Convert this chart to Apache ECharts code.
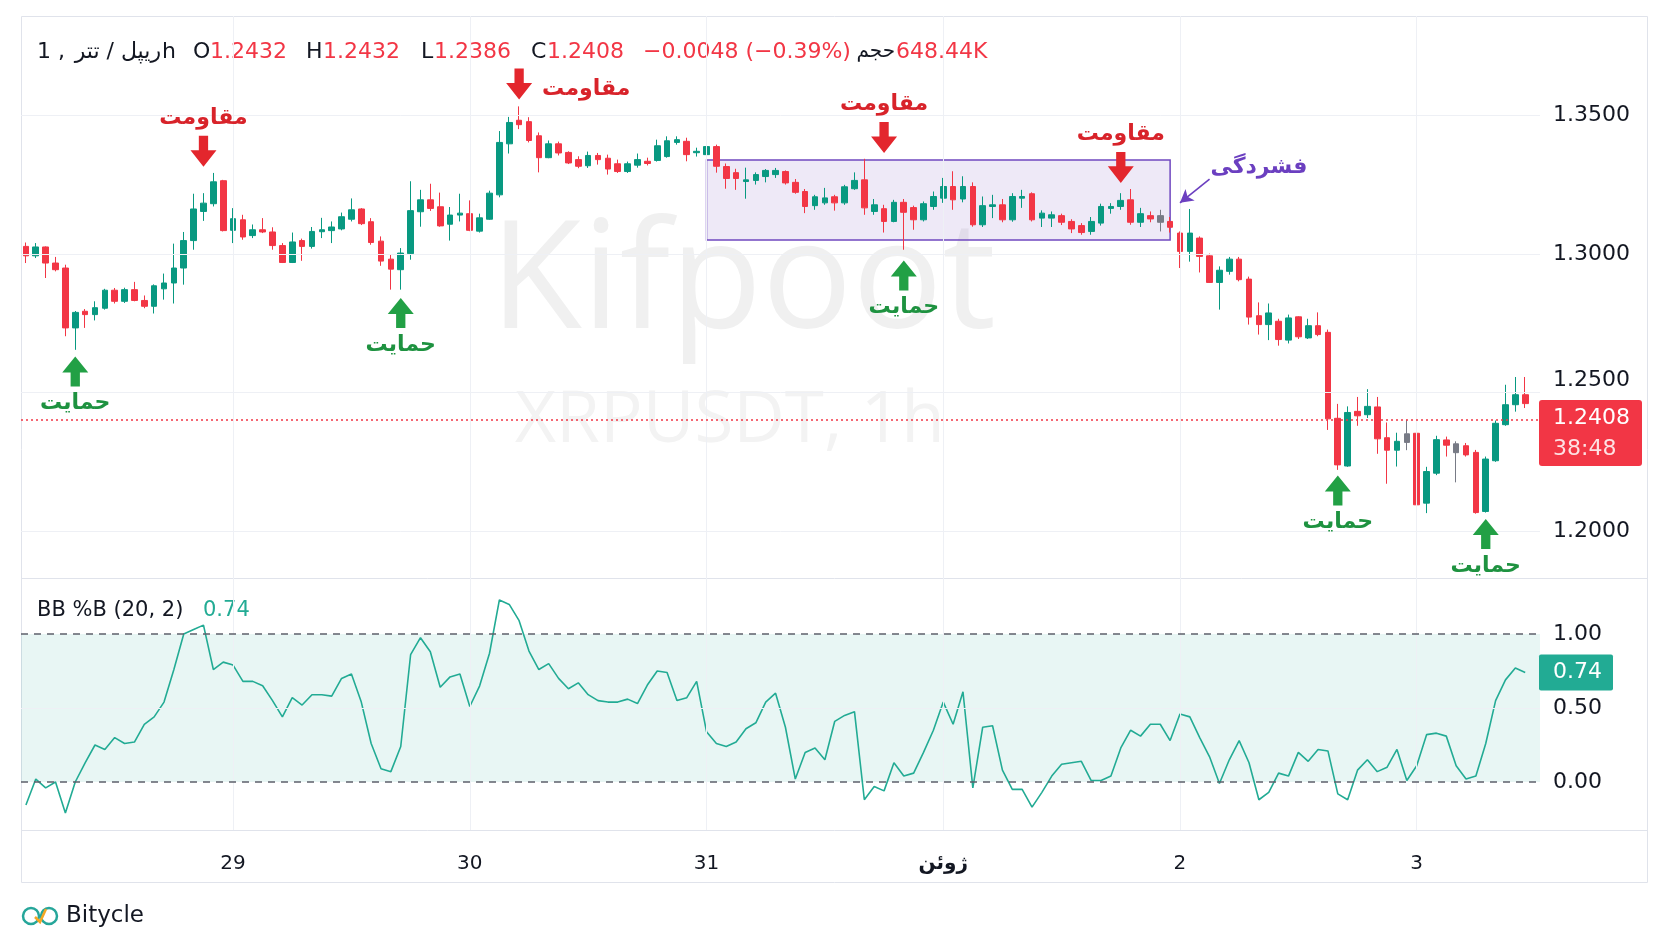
<!DOCTYPE html>
<html>
<head>
<meta charset="utf-8">
<script src="https://cdn.jsdelivr.net/npm/echarts@6/dist/echarts.min.js"></script>
<style>
  html, body { margin: 0; padding: 0; background: #fff; }
  #chart { width: 1672px; height: 941px; }
</style>
</head>
<body>
<div id="chart"></div>
<script>
// XRPUSDT 1h candles, first bar = 28 May 03:00
const opens = [
  1.3027, 1.2993, 1.3025, 1.2967, 1.2949, 1.2733, 1.2793, 1.2781, 1.2804, 1.2869,
  1.2829, 1.2871, 1.2832, 1.2811, 1.2874, 1.2895, 1.2949, 1.3048, 1.3153, 1.3181,
  1.3264, 1.3085, 1.3123, 1.3066, 1.3087, 1.3079, 1.3030, 1.2969, 1.3048, 1.3027,
  1.3080, 1.3084, 1.3090, 1.3125, 1.3162, 1.3116, 1.3046, 1.2981, 1.2943, 1.3001,
  1.3152, 1.3195, 1.3170, 1.3107, 1.3140, 1.3145, 1.3082, 1.3125, 1.3213, 1.3397,
  1.3482, 1.3477, 1.3426, 1.3347, 1.3397, 1.3366, 1.3340, 1.3318, 1.3355, 1.3345,
  1.3325, 1.3297, 1.3320, 1.3334, 1.3337, 1.3351, 1.3402, 1.3406, 1.3365, 1.3358,
  1.3387, 1.3315, 1.3293, 1.3261, 1.3265, 1.3279, 1.3286, 1.3297, 1.3258, 1.3225,
  1.3174, 1.3184, 1.3206, 1.3184, 1.3235, 1.3267, 1.3153, 1.3163, 1.3117, 1.3186,
  1.3167, 1.3123, 1.3171, 1.3201, 1.3243, 1.3198, 1.3243, 1.3105, 1.3171, 1.3177,
  1.3123, 1.3201, 1.3217, 1.3129, 1.3129, 1.3138, 1.3117, 1.3102, 1.3081, 1.3111,
  1.3164, 1.3171, 1.3195, 1.3114, 1.3138, 1.3138, 1.3117, 1.3075, 1.3009, 1.3057,
  1.2993, 1.2897, 1.2937, 1.2981, 1.2909, 1.2777, 1.2745, 1.2757, 1.2689, 1.2773,
  1.2697, 1.2741, 1.2717, 1.2407, 1.2235, 1.2432, 1.2420, 1.2448, 1.2337, 1.2292,
  1.2351, 1.2353, 1.2101, 1.2209, 1.2329, 1.2315, 1.2308, 1.2284, 1.2071, 1.2254,
  1.2384, 1.2456, 1.2492
];
const closes = [
  1.2993, 1.3025, 1.2967, 1.2943, 1.2733, 1.2789, 1.2781, 1.2806, 1.2869, 1.2829,
  1.2871, 1.2832, 1.2811, 1.2885, 1.2895, 1.2949, 1.3048, 1.3162, 1.3183, 1.3260,
  1.3084, 1.3127, 1.3061, 1.3087, 1.3079, 1.3030, 1.2969, 1.3043, 1.3027, 1.3081,
  1.3087, 1.3097, 1.3134, 1.3159, 1.3109, 1.3041, 1.2974, 1.2945, 1.3003, 1.3156,
  1.3195, 1.3164, 1.3101, 1.3140, 1.3147, 1.3085, 1.3130, 1.3219, 1.3402, 1.3474,
  1.3466, 1.3409, 1.3347, 1.3397, 1.3364, 1.3328, 1.3316, 1.3355, 1.3340, 1.3306,
  1.3297, 1.3325, 1.3340, 1.3326, 1.3390, 1.3408, 1.3412, 1.3358, 1.3370, 1.3387,
  1.3316, 1.3272, 1.3272, 1.3267, 1.3286, 1.3301, 1.3301, 1.3256, 1.3222, 1.3171,
  1.3206, 1.3202, 1.3184, 1.3242, 1.3265, 1.3166, 1.3177, 1.3117, 1.3186, 1.3150,
  1.3123, 1.3181, 1.3207, 1.3243, 1.3195, 1.3243, 1.3105, 1.3174, 1.3177, 1.3123,
  1.3207, 1.3207, 1.3123, 1.3147, 1.3141, 1.3114, 1.3090, 1.3077, 1.3117, 1.3171,
  1.3171, 1.3193, 1.3114, 1.3145, 1.3126, 1.3114, 1.3096, 1.3009, 1.3075, 1.2991,
  1.2897, 1.2941, 1.2981, 1.2907, 1.2772, 1.2745, 1.2787, 1.2691, 1.2769, 1.2701,
  1.2741, 1.2709, 1.2405, 1.2239, 1.2428, 1.2416, 1.2450, 1.2333, 1.2292, 1.2324,
  1.2320, 1.2095, 1.2215, 1.2330, 1.2310, 1.2283, 1.2275, 1.2067, 1.2260, 1.2389,
  1.2456, 1.2492, 1.2460
];
const highs = [
  1.3041, 1.3039, 1.3027, 1.2989, 1.2961, 1.2794, 1.2801, 1.2829, 1.2874, 1.2877,
  1.2878, 1.2899, 1.2850, 1.2890, 1.2929, 1.3037, 1.3079, 1.3217, 1.3219, 1.3292,
  1.3267, 1.3165, 1.3141, 1.3106, 1.3129, 1.3096, 1.3039, 1.3077, 1.3055, 1.3097,
  1.3130, 1.3117, 1.3149, 1.3200, 1.3165, 1.3129, 1.3063, 1.2996, 1.3021, 1.3262,
  1.3231, 1.3253, 1.3221, 1.3169, 1.3217, 1.3193, 1.3145, 1.3228, 1.3443, 1.3494,
  1.3532, 1.3493, 1.3438, 1.3409, 1.3405, 1.3370, 1.3352, 1.3369, 1.3364, 1.3358,
  1.3340, 1.3333, 1.3362, 1.3347, 1.3412, 1.3424, 1.3424, 1.3419, 1.3383, 1.3394,
  1.3394, 1.3326, 1.3307, 1.3311, 1.3294, 1.3306, 1.3310, 1.3301, 1.3270, 1.3234,
  1.3213, 1.3238, 1.3213, 1.3249, 1.3294, 1.3343, 1.3198, 1.3177, 1.3195, 1.3198,
  1.3174, 1.3189, 1.3225, 1.3274, 1.3298, 1.3280, 1.3258, 1.3207, 1.3213, 1.3198,
  1.3219, 1.3231, 1.3222, 1.3157, 1.3153, 1.3145, 1.3125, 1.3111, 1.3133, 1.3181,
  1.3183, 1.3219, 1.3234, 1.3166, 1.3153, 1.3159, 1.3133, 1.3081, 1.3162, 1.3063,
  1.3001, 1.2955, 1.2989, 1.2989, 1.2918, 1.2825, 1.2821, 1.2766, 1.2781, 1.2775,
  1.2766, 1.2789, 1.2727, 1.2459, 1.2450, 1.2484, 1.2512, 1.2484, 1.2392, 1.2355,
  1.2402, 1.2355, 1.2232, 1.2344, 1.2341, 1.2324, 1.2318, 1.2293, 1.2269, 1.2399,
  1.2528, 1.2556, 1.2556
];
const lows = [
  1.2967, 1.2985, 1.2913, 1.2937, 1.2703, 1.2654, 1.2733, 1.2760, 1.2799, 1.2821,
  1.2823, 1.2829, 1.2804, 1.2785, 1.2835, 1.2821, 1.2889, 1.3015, 1.3119, 1.3171,
  1.3081, 1.3039, 1.3051, 1.3057, 1.3075, 1.3015, 1.2967, 1.2967, 1.2975, 1.3019,
  1.3057, 1.3039, 1.3085, 1.3117, 1.3104, 1.3033, 1.2957, 1.2871, 1.2871, 1.2979,
  1.3098, 1.3155, 1.3098, 1.3048, 1.3117, 1.3082, 1.3077, 1.3123, 1.3204, 1.3362,
  1.3450, 1.3402, 1.3294, 1.3345, 1.3355, 1.3324, 1.3309, 1.3310, 1.3322, 1.3286,
  1.3292, 1.3292, 1.3311, 1.3319, 1.3333, 1.3347, 1.3394, 1.3334, 1.3351, 1.3351,
  1.3293, 1.3235, 1.3231, 1.3199, 1.3250, 1.3258, 1.3274, 1.3250, 1.3217, 1.3147,
  1.3159, 1.3177, 1.3156, 1.3177, 1.3231, 1.3141, 1.3141, 1.3077, 1.3114, 1.3015,
  1.3087, 1.3117, 1.3159, 1.3184, 1.3159, 1.3186, 1.3098, 1.3097, 1.3129, 1.3114,
  1.3116, 1.3166, 1.3117, 1.3097, 1.3097, 1.3104, 1.3075, 1.3069, 1.3069, 1.3102,
  1.3145, 1.3159, 1.3105, 1.3097, 1.3114, 1.3081, 1.3077, 1.2949, 1.2972, 1.2933,
  1.2895, 1.2799, 1.2925, 1.2901, 1.2745, 1.2709, 1.2689, 1.2669, 1.2677, 1.2693,
  1.2693, 1.2703, 1.2365, 1.2221, 1.2232, 1.2380, 1.2408, 1.2279, 1.2171, 1.2233,
  1.2292, 1.2041, 1.2065, 1.2202, 1.2269, 1.2176, 1.2269, 1.2063, 1.2067, 1.2250,
  1.2380, 1.2431, 1.2444
];
const grayBars = [115, 140, 145];

// BB %B (20, 2)
const bbPercent = [
  -0.155, 0.02, -0.04, 0.0, -0.21, 0.0, 0.13, 0.25, 0.22, 0.30,
  0.26, 0.27, 0.39, 0.44, 0.54, 0.76, 1.0, 1.03, 1.06, 0.76,
  0.81, 0.79, 0.68, 0.68, 0.65, 0.55, 0.44, 0.57, 0.52, 0.59,
  0.59, 0.58, 0.70, 0.73, 0.54, 0.26, 0.09, 0.07, 0.24, 0.86,
  0.975, 0.88, 0.64, 0.71, 0.73, 0.51, 0.65, 0.87, 1.23, 1.20,
  1.09, 0.885, 0.76, 0.80, 0.70, 0.63, 0.67, 0.59, 0.55, 0.54,
  0.54, 0.56, 0.53, 0.655, 0.75, 0.74, 0.55, 0.57, 0.68, 0.34,
  0.26, 0.24, 0.27, 0.36, 0.40, 0.54, 0.60, 0.37, 0.02, 0.20,
  0.23, 0.15, 0.41, 0.45, 0.475, -0.12, -0.03, -0.06, 0.13, 0.04,
  0.06, 0.20, 0.35, 0.54, 0.39, 0.61, -0.04, 0.37, 0.38, 0.08,
  -0.05, -0.05, -0.17, -0.07, 0.04, 0.12, 0.13, 0.14, 0.01, 0.01,
  0.04, 0.23, 0.35, 0.31, 0.39, 0.39, 0.28, 0.46, 0.44, 0.30,
  0.17, -0.01, 0.15, 0.28, 0.13, -0.12, -0.07, 0.06, 0.04, 0.20,
  0.14, 0.22, 0.21, -0.08, -0.12, 0.08, 0.15, 0.07, 0.10, 0.22,
  0.01, 0.11, 0.32, 0.33, 0.31, 0.11, 0.02, 0.04, 0.26, 0.55,
  0.69, 0.77, 0.74
];

const dayIdx = [21, 45, 69, 93, 117, 141];
const dayLabels = ["29", "30", "31", "ژوئن", "2", "3"];
const priceTicks = [1.2, 1.25, 1.3, 1.35];
const bbTicks = [0, 0.5, 1];
const lastPrice = 1.2408;
const lastBB = 0.74;

// annotations: bar index + price of the arrow
const resistIdx = [18, 50, 87, 111];
const resistPrice = [1.337, 1.3613, 1.342, 1.3312];
const supportIdx = [5, 38, 89, 133, 148];
const supportPrice = [1.2576, 1.2787, 1.2922, 1.2147, 1.199];
const squeezeBox = [[69, 1.3339], [116, 1.305]];
const squeezeText = [125, 1.3314];
const squeezeArrow = [[120, 1.327], [117, 1.3184]];

const UP = "#089981";
const DOWN = "#f23645";
const FONT = "DejaVu Sans";
const ARROW_DOWN = "path://M9,0 L19,0 L19,14 L28,14 L14,30 L0,14 L9,14 Z";
const ARROW_UP = "path://M14,0 L28,16 L19,16 L19,30 L9,30 L9,16 L0,16 Z";

const start = Date.UTC(2024, 4, 28, 3);
const hours = [];
for (let i = 0; i <= opens.length; i++) {
  const d = new Date(start + i * 3600e3);
  hours.push(d.getUTCMonth() + 1 + "/" + d.getUTCDate() + " " + d.getUTCHours() + ":00");
}

const gray = { color: "#787b86", color0: "#787b86", borderColor: "#787b86", borderColor0: "#787b86" };
const candles = opens.map((o, i) => {
  const v = [o, closes[i], lows[i], highs[i]];
  return grayBars.includes(i) ? { value: v, itemStyle: gray } : v;
});

const dayLines = dayIdx.map((i) => ({ xAxis: i, lineStyle: { color: "#eef0f5", width: 1, type: "solid" } }));

const xAxisFor = (gridIndex, showLabel) => ({
  type: "category",
  gridIndex,
  data: hours,
  boundaryGap: true,
  axisLine: { show: false },
  axisTick: { show: false },
  splitLine: { show: false },
  axisLabel: showLabel
    ? {
        interval: (i) => dayIdx.includes(i),
        formatter: (v, i) => {
          const k = dayIdx.indexOf(i);
          if (k < 0) return "";
          return k === 3 ? "{b|" + dayLabels[k] + "}" : dayLabels[k];
        },
        rich: { b: { fontWeight: "bold", fontSize: 20, fontFamily: FONT, color: "#131722" } },
        color: "#131722",
        fontSize: 20,
        fontFamily: FONT,
        margin: 24
      }
    : { show: false }
});

const noteLabel = (text, color, position, distance) => ({
  show: true,
  formatter: text,
  position,
  distance,
  color,
  fontSize: 22,
  fontWeight: "bold",
  fontFamily: FONT
});

const notes = [
  ...resistIdx.map((x, k) => ({
    coord: [x, resistPrice[k]],
    symbol: ARROW_DOWN,
    symbolSize: [26, 31],
    itemStyle: { color: "#e3262d" },
    label: Object.assign(
      noteLabel("مقاومت", "#d8232a", k === 1 ? "right" : "top", k === 1 ? 10 : 7),
      k === 1 ? { offset: [0, 5] } : {}
    )
  })),
  ...supportIdx.map((x, k) => ({
    coord: [x, supportPrice[k]],
    symbol: ARROW_UP,
    symbolSize: [26, 30],
    itemStyle: { color: "#22a045" },
    label: noteLabel("حمایت", "#1e9240", "bottom", 6)
  })),
  {
    coord: squeezeText,
    symbol: "circle",
    symbolSize: 1,
    itemStyle: { color: "transparent" },
    label: noteLabel("فشردگی", "#6b3fc0", "inside", 0)
  }
];

const chart = echarts.init(document.getElementById("chart"), null, { renderer: "canvas" });

const option = {
  animation: false,
  backgroundColor: "#ffffff",
  textStyle: { fontFamily: FONT },
  grid: [
    { left: 21, top: 16, width: 1519, height: 562 },
    { left: 21, top: 578, width: 1519, height: 252 }
  ],
  xAxis: [xAxisFor(0, false), xAxisFor(1, true)],
  yAxis: [
    {
      type: "value",
      gridIndex: 0,
      position: "right",
      min: 1.1831,
      max: 1.3858,
      splitLine: { show: false },
      axisLine: { show: false },
      axisTick: { show: false },
      axisLabel: {
        customValues: priceTicks,
        formatter: (v) => (v === 1.25 ? "{up|" + v.toFixed(4) + "}" : v.toFixed(4)),
        rich: { up: { padding: [0, 0, 24, 0], fontSize: 22, fontFamily: FONT, color: "#131722" } },
        color: "#131722",
        fontSize: 22,
        fontFamily: FONT,
        margin: 13
      }
    },
    {
      type: "value",
      gridIndex: 1,
      position: "right",
      min: -0.3243,
      max: 1.3784,
      splitLine: { show: false },
      axisLine: { show: false },
      axisTick: { show: false },
      axisLabel: {
        customValues: bbTicks,
        formatter: (v) => v.toFixed(2),
        color: "#131722",
        fontSize: 22,
        fontFamily: FONT,
        margin: 13
      }
    }
  ],
  series: [
    {
      // grid lines, squeeze box and last price line under the candles
      type: "line",
      xAxisIndex: 0,
      yAxisIndex: 0,
      data: closes,
      symbol: "none",
      lineStyle: { opacity: 0 },
      silent: true,
      z: 1,
      markLine: {
        silent: true,
        symbol: "none",
        label: { show: false },
        data: [
          ...priceTicks.map((v) => ({ yAxis: v, lineStyle: { color: "#eef0f5", width: 1, type: "solid" } })),
          ...dayLines,
          { yAxis: lastPrice, lineStyle: { color: DOWN, width: 1.5, type: [2, 3] } }
        ]
      },
      markArea: {
        silent: true,
        itemStyle: { color: "rgba(126, 87, 194, 0.13)", borderColor: "#7048c0", borderWidth: 1.5 },
        data: [[{ xAxis: squeezeBox[0][0], yAxis: squeezeBox[0][1] }, { xAxis: squeezeBox[1][0], yAxis: squeezeBox[1][1] }]]
      }
    },
    {
      type: "candlestick",
      xAxisIndex: 0,
      yAxisIndex: 0,
      data: candles,
      barWidth: "62%",
      z: 3,
      itemStyle: { color: UP, color0: DOWN, borderColor: UP, borderColor0: DOWN, borderWidth: 1 },
      markPoint: { silent: true, animation: false, data: notes },
      markLine: {
        silent: true,
        symbol: ["none", "arrow"],
        symbolSize: [11, 13],
        label: { show: false },
        lineStyle: { color: "#6b3fc0", width: 1.6, type: "solid" },
        data: [[{ coord: squeezeArrow[0] }, { coord: squeezeArrow[1] }]]
      }
    },
    {
      type: "line",
      xAxisIndex: 1,
      yAxisIndex: 1,
      data: bbPercent,
      symbol: "none",
      silent: true,
      lineStyle: { opacity: 0 },
      z: 1,
      markArea: {
        silent: true,
        itemStyle: { color: "rgba(34, 171, 148, 0.1)" },
        data: [[{ yAxis: 0 }, { yAxis: 1 }]]
      },
      markLine: {
        silent: true,
        symbol: "none",
        label: { show: false },
        data: [
          ...dayLines,
          { yAxis: 0.5, lineStyle: { color: "#eef0f5", width: 1, type: "solid" } },
          { yAxis: 0, lineStyle: { color: "#5d606b", width: 1.5, type: [7, 6] } },
          { yAxis: 1, lineStyle: { color: "#5d606b", width: 1.5, type: [7, 6] } }
        ]
      }
    },
    {
      name: "BB %B",
      type: "line",
      xAxisIndex: 1,
      yAxisIndex: 1,
      data: bbPercent,
      symbol: "none",
      z: 3,
      lineStyle: { color: "#22ab94", width: 1.6 }
    }
  ],
  graphic: {
    elements: [
      { id: "wm1", type: "text", z: -10, silent: true, style: { text: "Kifpoot", x: 743, y: 285, align: "center", verticalAlign: "middle", font: "150px 'Open Sans'", fill: "#f0f0f0" } },
      { id: "wm2", type: "text", z: -10, silent: true, style: { text: "XRPUSDT, 1h", x: 730, y: 422, align: "center", verticalAlign: "middle", font: "71px 'Open Sans'", fill: "#f3f3f3" } },
      { id: "frame", type: "rect", silent: true, shape: { x: 21.5, y: 16.5, width: 1626, height: 866 }, style: { fill: null, stroke: "#e0e3eb", lineWidth: 1 } },
      { id: "sep1", type: "line", silent: true, shape: { x1: 21, y1: 578.5, x2: 1648, y2: 578.5 }, style: { stroke: "#e0e3eb", lineWidth: 1 } },
      { id: "sep2", type: "line", silent: true, shape: { x1: 21, y1: 830.5, x2: 1648, y2: 830.5 }, style: { stroke: "#e0e3eb", lineWidth: 1 } },
      { id: "h1", type: "text", style: { text: "1 ,", x: 37, y: 52, verticalAlign: "middle", font: "22px " + FONT, fill: "#131722" } },
      { id: "h2", type: "text", style: { text: "ریپل / تتر", x: 161, y: 52, align: "right", verticalAlign: "middle", font: "22px " + FONT, fill: "#131722" } },
      { id: "h3", type: "text", style: { text: "h", x: 162, y: 52, verticalAlign: "middle", font: "22px " + FONT, fill: "#131722" } },
      { id: "hO", type: "text", style: { text: "O", x: 193, y: 52, verticalAlign: "middle", font: "22px " + FONT, fill: "#131722" } },
      { id: "hOv", type: "text", style: { text: "1.2432", x: 210, y: 52, verticalAlign: "middle", font: "22px " + FONT, fill: DOWN } },
      { id: "hH", type: "text", style: { text: "H", x: 306, y: 52, verticalAlign: "middle", font: "22px " + FONT, fill: "#131722" } },
      { id: "hHv", type: "text", style: { text: "1.2432", x: 323, y: 52, verticalAlign: "middle", font: "22px " + FONT, fill: DOWN } },
      { id: "hL", type: "text", style: { text: "L", x: 421, y: 52, verticalAlign: "middle", font: "22px " + FONT, fill: "#131722" } },
      { id: "hLv", type: "text", style: { text: "1.2386", x: 434, y: 52, verticalAlign: "middle", font: "22px " + FONT, fill: DOWN } },
      { id: "hC", type: "text", style: { text: "C", x: 531, y: 52, verticalAlign: "middle", font: "22px " + FONT, fill: "#131722" } },
      { id: "hCv", type: "text", style: { text: "1.2408", x: 547, y: 52, verticalAlign: "middle", font: "22px " + FONT, fill: DOWN } },
      { id: "hChg", type: "text", style: { text: "−0.0048 (−0.39%)", x: 643, y: 52, verticalAlign: "middle", font: "22px " + FONT, fill: DOWN } },
      { id: "hVol", type: "text", style: { text: "حجم", x: 895, y: 52, align: "right", verticalAlign: "middle", font: "20px " + FONT, fill: "#131722" } },
      { id: "hVolv", type: "text", style: { text: "648.44K", x: 896, y: 52, verticalAlign: "middle", font: "22px " + FONT, fill: DOWN } },
      { id: "bbT", type: "text", style: { text: "BB %B (20, 2)", x: 37, y: 611, verticalAlign: "middle", font: "21px " + FONT, fill: "#131722" } },
      { id: "bbV", type: "text", style: { text: "0.74", x: 203, y: 611, verticalAlign: "middle", font: "21px " + FONT, fill: "#22ab94" } },
      { id: "logo1", type: "circle", shape: { cx: 31, cy: 916, r: 8 }, style: { fill: null, stroke: "#26a69a", lineWidth: 2.5 } },
      { id: "logo2", type: "circle", shape: { cx: 49, cy: 916, r: 8 }, style: { fill: null, stroke: "#26a69a", lineWidth: 2.5 } },
      { id: "logo3", type: "polyline", shape: { points: [[35, 917], [40, 922], [46, 909]] }, style: { stroke: "#f5a623", lineWidth: 2.5, fill: null } },
      { id: "logoT", type: "text", style: { text: "Bitycle", x: 66, y: 916, verticalAlign: "middle", font: "23px " + FONT, fill: "#131722" } }
    ]
  }
};

chart.setOption(option);

// value tags on the right scale, placed through the axes
const yPrice = chart.convertToPixel({ yAxisIndex: 0 }, lastPrice);
const yBB = chart.convertToPixel({ yAxisIndex: 1 }, lastBB);
chart.setOption({
  graphic: {
    elements: [
      { id: "tagP", type: "rect", shape: { x: 1539, y: yPrice - 18, width: 103, height: 66, r: 3 }, style: { fill: DOWN } },
      { id: "tagP1", type: "text", style: { text: lastPrice.toFixed(4), x: 1553, y: yPrice, verticalAlign: "middle", font: "22px " + FONT, fill: "#fff" } },
      { id: "tagP2", type: "text", style: { text: "38:48", x: 1553, y: yPrice + 31, verticalAlign: "middle", font: "22px " + FONT, fill: "rgba(255,255,255,0.85)" } },
      { id: "tagB", type: "rect", shape: { x: 1539, y: yBB - 18, width: 74, height: 36, r: 2 }, style: { fill: "#22ab94" } },
      { id: "tagB1", type: "text", style: { text: lastBB.toFixed(2), x: 1553, y: yBB, verticalAlign: "middle", font: "22px " + FONT, fill: "#fff" } }
    ]
  }
});
</script>
</body>
</html>
